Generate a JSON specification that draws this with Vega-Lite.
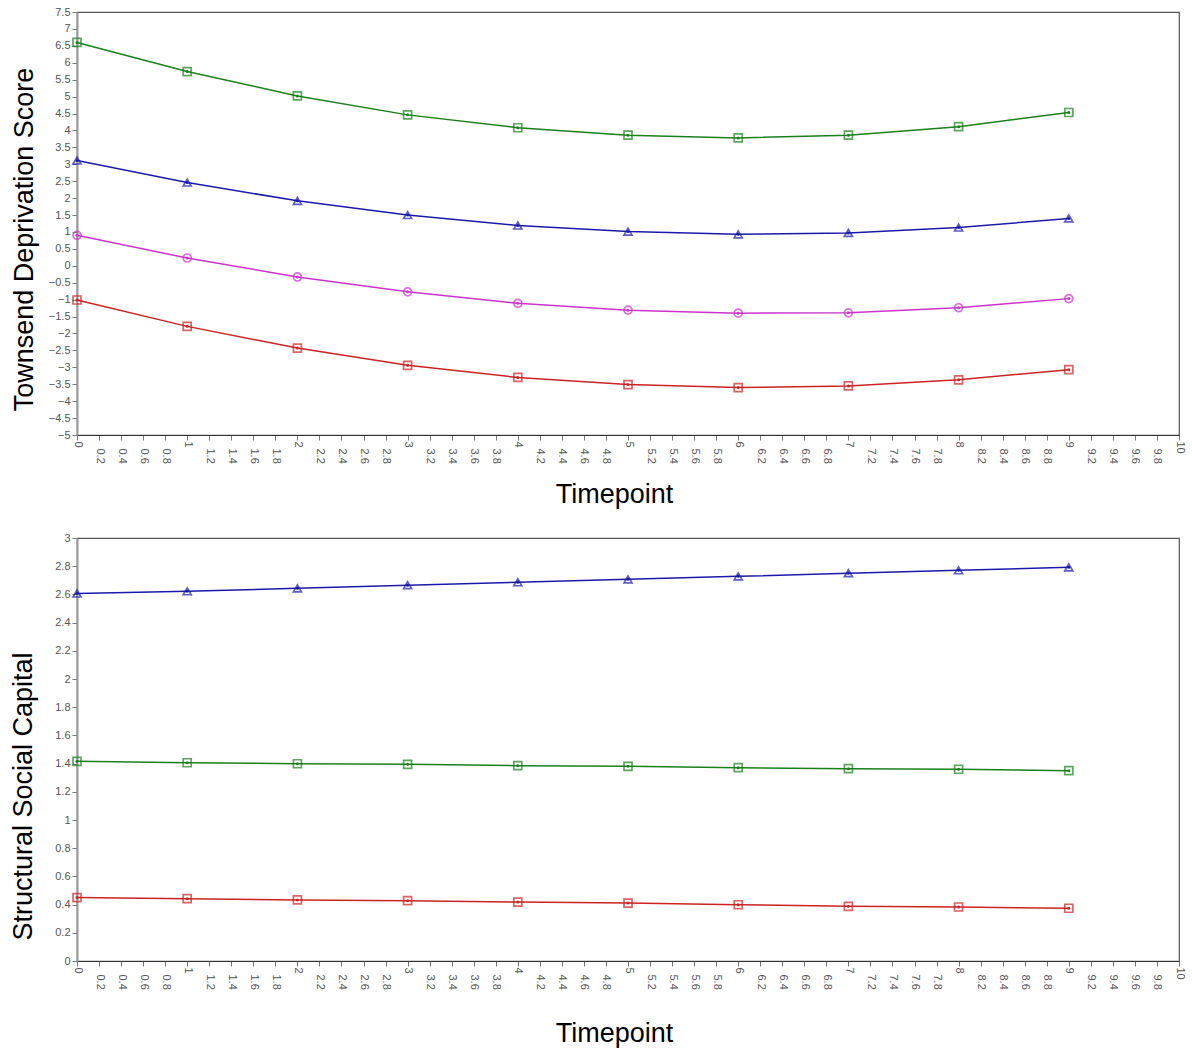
{
  "$schema": "https://vega.github.io/schema/vega-lite/v6.json",
  "background": "white",
  "padding": {"left": 8, "top": 5, "right": 5, "bottom": 5},
  "spacing": 23,
  "config": {
    "font": "Liberation Sans",
    "view": {"stroke": "#555555", "strokeWidth": 1.2},
    "axis": {
      "grid": false,
      "labelColor": "#555555",
      "labelFontSize": 11,
      "tickColor": "#777777",
      "tickSize": 5,
      "titleFontSize": 27,
      "titleFontWeight": "normal",
      "titleColor": "#000000",
      "labelOverlap": false,
      "labelFlush": false
    },
    "axisY": {"domainColor": "#999999", "domainWidth": 2},
    "axisX": {"domainColor": "#333333", "domainWidth": 1.2},
    "line": {"strokeWidth": 1.5},
    "legend": {"disable": true}
  },
  "datasets": {
    "tds": [
      {"group": "A", "t": 0, "value": 6.60}, {"group": "A", "t": 1, "value": 5.74}, {"group": "A", "t": 2, "value": 5.02},
      {"group": "A", "t": 3, "value": 4.46}, {"group": "A", "t": 4, "value": 4.08}, {"group": "A", "t": 5, "value": 3.86},
      {"group": "A", "t": 6, "value": 3.78}, {"group": "A", "t": 7, "value": 3.86}, {"group": "A", "t": 8, "value": 4.11},
      {"group": "A", "t": 9, "value": 4.53},
      {"group": "B", "t": 0, "value": 3.11}, {"group": "B", "t": 1, "value": 2.46}, {"group": "B", "t": 2, "value": 1.92},
      {"group": "B", "t": 3, "value": 1.50}, {"group": "B", "t": 4, "value": 1.19}, {"group": "B", "t": 5, "value": 1.01},
      {"group": "B", "t": 6, "value": 0.93}, {"group": "B", "t": 7, "value": 0.97}, {"group": "B", "t": 8, "value": 1.13},
      {"group": "B", "t": 9, "value": 1.40},
      {"group": "C", "t": 0, "value": 0.90}, {"group": "C", "t": 1, "value": 0.23}, {"group": "C", "t": 2, "value": -0.33},
      {"group": "C", "t": 3, "value": -0.77}, {"group": "C", "t": 4, "value": -1.11}, {"group": "C", "t": 5, "value": -1.31},
      {"group": "C", "t": 6, "value": -1.40}, {"group": "C", "t": 7, "value": -1.39}, {"group": "C", "t": 8, "value": -1.24},
      {"group": "C", "t": 9, "value": -0.97},
      {"group": "D", "t": 0, "value": -1.01}, {"group": "D", "t": 1, "value": -1.79}, {"group": "D", "t": 2, "value": -2.43},
      {"group": "D", "t": 3, "value": -2.94}, {"group": "D", "t": 4, "value": -3.30}, {"group": "D", "t": 5, "value": -3.51},
      {"group": "D", "t": 6, "value": -3.60}, {"group": "D", "t": 7, "value": -3.55}, {"group": "D", "t": 8, "value": -3.37},
      {"group": "D", "t": 9, "value": -3.07}
    ],
    "ssc": [
      {"group": "B", "t": 0, "value": 2.606}, {"group": "B", "t": 1, "value": 2.622}, {"group": "B", "t": 2, "value": 2.643},
      {"group": "B", "t": 3, "value": 2.665}, {"group": "B", "t": 4, "value": 2.686}, {"group": "B", "t": 5, "value": 2.707},
      {"group": "B", "t": 6, "value": 2.728}, {"group": "B", "t": 7, "value": 2.750}, {"group": "B", "t": 8, "value": 2.771},
      {"group": "B", "t": 9, "value": 2.792},
      {"group": "A", "t": 0, "value": 1.416}, {"group": "A", "t": 1, "value": 1.406}, {"group": "A", "t": 2, "value": 1.399},
      {"group": "A", "t": 3, "value": 1.395}, {"group": "A", "t": 4, "value": 1.385}, {"group": "A", "t": 5, "value": 1.381},
      {"group": "A", "t": 6, "value": 1.371}, {"group": "A", "t": 7, "value": 1.364}, {"group": "A", "t": 8, "value": 1.360},
      {"group": "A", "t": 9, "value": 1.350},
      {"group": "D", "t": 0, "value": 0.450}, {"group": "D", "t": 1, "value": 0.442}, {"group": "D", "t": 2, "value": 0.433},
      {"group": "D", "t": 3, "value": 0.428}, {"group": "D", "t": 4, "value": 0.418}, {"group": "D", "t": 5, "value": 0.411},
      {"group": "D", "t": 6, "value": 0.399}, {"group": "D", "t": 7, "value": 0.388}, {"group": "D", "t": 8, "value": 0.383},
      {"group": "D", "t": 9, "value": 0.374}
    ]
  },
  "vconcat": [
    {
      "width": 1102,
      "height": 423,
      "data": {"name": "tds"},
      "encoding": {
        "x": {
          "field": "t", "type": "quantitative",
          "scale": {"domain": [0, 10], "nice": false},
          "axis": {
            "title": "Timepoint",
            "values": [0, 0.2, 0.4, 0.6, 0.8, 1, 1.2, 1.4, 1.6, 1.8, 2, 2.2, 2.4, 2.6, 2.8, 3, 3.2, 3.4, 3.6, 3.8, 4, 4.2, 4.4, 4.6, 4.8, 5, 5.2, 5.4, 5.6, 5.8, 6, 6.2, 6.4, 6.6, 6.8, 7, 7.2, 7.4, 7.6, 7.8, 8, 8.2, 8.4, 8.6, 8.8, 9, 9.2, 9.4, 9.6, 9.8, 10],
            "format": ".1~f",
            "labelAngle": 90,
            "labelPadding": {"condition": {"test": "datum.value % 1 == 0", "value": 1}, "value": 8},
            "titleX": 537,
            "titleY": 46,
            "titleBaseline": "top"
          }
        },
        "y": {
          "field": "value", "type": "quantitative",
          "scale": {"domain": [-5, 7.5], "nice": false, "zero": false},
          "axis": {
            "title": "Townsend Deprivation Score",
            "values": [-5, -4.5, -4, -3.5, -3, -2.5, -2, -1.5, -1, -0.5, 0, 0.5, 1, 1.5, 2, 2.5, 3, 3.5, 4, 4.5, 5, 5.5, 6, 6.5, 7, 7.5],
            "format": ".1~f",
            "titleY": 227,
            "titleX": -39
          }
        },
        "color": {
          "field": "group", "type": "nominal",
          "scale": {"domain": ["A", "B", "C", "D"], "range": ["#1a801a", "#1a1aaa", "#cc33cc", "#cc2222"]}
        }
      },
      "layer": [
        {"mark": {"type": "line"}, "encoding": {"detail": {"field": "group"}}},
        {
          "mark": {"type": "point", "filled": false, "strokeWidth": 1.7, "size": 64},
          "encoding": {
            "shape": {
              "field": "group", "type": "nominal",
              "scale": {"domain": ["A", "B", "C", "D"], "range": ["square", "triangle-up", "circle", "square"]}
            }
          }
        },
        {"mark": {"type": "point", "filled": true, "size": 9, "color": "#000000", "opacity": 1}}
      ]
    },
    {
      "width": 1102,
      "height": 423,
      "data": {"name": "ssc"},
      "encoding": {
        "x": {
          "field": "t", "type": "quantitative",
          "scale": {"domain": [0, 10], "nice": false},
          "axis": {
            "title": "Timepoint",
            "values": [0, 0.2, 0.4, 0.6, 0.8, 1, 1.2, 1.4, 1.6, 1.8, 2, 2.2, 2.4, 2.6, 2.8, 3, 3.2, 3.4, 3.6, 3.8, 4, 4.2, 4.4, 4.6, 4.8, 5, 5.2, 5.4, 5.6, 5.8, 6, 6.2, 6.4, 6.6, 6.8, 7, 7.2, 7.4, 7.6, 7.8, 8, 8.2, 8.4, 8.6, 8.8, 9, 9.2, 9.4, 9.6, 9.8, 10],
            "format": ".1~f",
            "labelAngle": 90,
            "labelPadding": {"condition": {"test": "datum.value % 1 == 0", "value": 1}, "value": 8},
            "titleX": 537,
            "titleY": 59,
            "titleBaseline": "top"
          }
        },
        "y": {
          "field": "value", "type": "quantitative",
          "scale": {"domain": [0, 3], "nice": false},
          "axis": {
            "title": "Structural Social Capital",
            "values": [0, 0.2, 0.4, 0.6, 0.8, 1, 1.2, 1.4, 1.6, 1.8, 2, 2.2, 2.4, 2.6, 2.8, 3],
            "format": ".1~f",
            "titleY": 258,
            "titleX": -40
          }
        },
        "color": {
          "field": "group", "type": "nominal",
          "scale": {"domain": ["A", "B", "C", "D"], "range": ["#1a801a", "#1a1aaa", "#cc33cc", "#cc2222"]}
        }
      },
      "layer": [
        {"mark": {"type": "line"}, "encoding": {"detail": {"field": "group"}}},
        {
          "mark": {"type": "point", "filled": false, "strokeWidth": 1.7, "size": 64},
          "encoding": {
            "shape": {
              "field": "group", "type": "nominal",
              "scale": {"domain": ["A", "B", "C", "D"], "range": ["square", "triangle-up", "circle", "square"]}
            }
          }
        },
        {"mark": {"type": "point", "filled": true, "size": 9, "color": "#000000", "opacity": 1}}
      ]
    }
  ]
}
